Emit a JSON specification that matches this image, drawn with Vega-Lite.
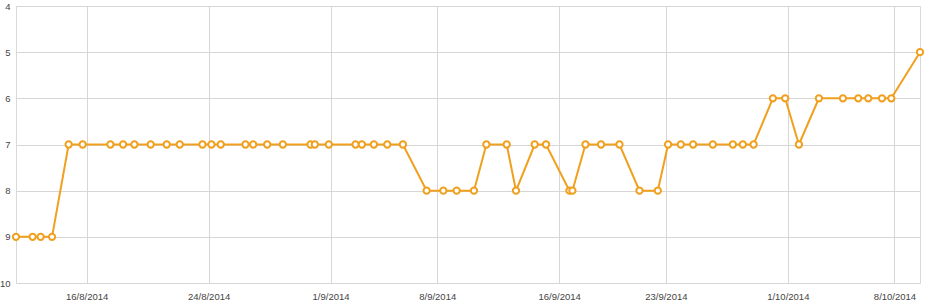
{
  "$schema": "https://vega.github.io/schema/vega-lite/v6.json",
  "autosize": "none",
  "width": 904,
  "height": 277,
  "padding": {"left": 16, "top": 6, "right": 6, "bottom": 22},
  "background": "white",
  "config": {
    "view": {"stroke": "#d9d9d9", "strokeWidth": 1},
    "axis": {"labelFont": "Liberation Sans", "labelFontSize": 9.5, "labelColor": "#444444", "gridColor": "#d6d6d6", "gridWidth": 1, "tickSize": 0, "domain": false, "title": null}
  },
  "data": {
    "values": [
      {"date": "2014-08-11T08:44:00", "rank": 9},
      {"date": "2014-08-12T10:54:00", "rank": 9},
      {"date": "2014-08-12T23:30:00", "rank": 9},
      {"date": "2014-08-13T17:28:00", "rank": 9},
      {"date": "2014-08-14T19:38:00", "rank": 7},
      {"date": "2014-08-15T17:41:00", "rank": 7},
      {"date": "2014-08-17T13:21:00", "rank": 7},
      {"date": "2014-08-18T09:21:00", "rank": 7},
      {"date": "2014-08-19T03:10:00", "rank": 7},
      {"date": "2014-08-20T04:51:00", "rank": 7},
      {"date": "2014-08-21T06:04:00", "rank": 7},
      {"date": "2014-08-22T02:33:00", "rank": 7},
      {"date": "2014-08-23T14:20:00", "rank": 7},
      {"date": "2014-08-24T04:30:00", "rank": 7},
      {"date": "2014-08-24T19:09:00", "rank": 7},
      {"date": "2014-08-26T10:05:00", "rank": 7},
      {"date": "2014-08-26T22:13:00", "rank": 7},
      {"date": "2014-08-27T20:17:00", "rank": 7},
      {"date": "2014-08-28T20:53:00", "rank": 7},
      {"date": "2014-08-30T16:31:00", "rank": 7},
      {"date": "2014-08-30T23:17:00", "rank": 7},
      {"date": "2014-08-31T21:22:00", "rank": 7},
      {"date": "2014-09-02T15:26:00", "rank": 7},
      {"date": "2014-09-03T01:21:00", "rank": 7},
      {"date": "2014-09-03T20:15:00", "rank": 7},
      {"date": "2014-09-04T17:22:00", "rank": 7},
      {"date": "2014-09-05T17:58:00", "rank": 7},
      {"date": "2014-09-07T07:19:00", "rank": 8},
      {"date": "2014-09-08T09:37:00", "rank": 8},
      {"date": "2014-09-09T06:36:00", "rank": 8},
      {"date": "2014-09-10T09:52:00", "rank": 8},
      {"date": "2014-09-11T05:24:00", "rank": 7},
      {"date": "2014-09-12T13:23:00", "rank": 7},
      {"date": "2014-09-13T04:02:00", "rank": 8},
      {"date": "2014-09-14T09:30:00", "rank": 7},
      {"date": "2014-09-15T03:19:00", "rank": 7},
      {"date": "2014-09-16T16:10:00", "rank": 8},
      {"date": "2014-09-16T20:54:00", "rank": 8},
      {"date": "2014-09-17T17:24:00", "rank": 7},
      {"date": "2014-09-18T17:58:00", "rank": 7},
      {"date": "2014-09-19T22:58:00", "rank": 7},
      {"date": "2014-09-21T06:29:00", "rank": 8},
      {"date": "2014-09-22T11:20:00", "rank": 8},
      {"date": "2014-09-23T03:33:00", "rank": 7},
      {"date": "2014-09-23T23:34:00", "rank": 7},
      {"date": "2014-09-24T18:58:00", "rank": 7},
      {"date": "2014-09-26T02:01:00", "rank": 7},
      {"date": "2014-09-27T09:32:00", "rank": 7},
      {"date": "2014-09-28T01:16:00", "rank": 7},
      {"date": "2014-09-28T18:09:00", "rank": 7},
      {"date": "2014-09-30T00:33:00", "rank": 6},
      {"date": "2014-09-30T19:56:00", "rank": 6},
      {"date": "2014-10-01T17:31:00", "rank": 7},
      {"date": "2014-10-03T01:02:00", "rank": 6},
      {"date": "2014-10-04T14:51:00", "rank": 6},
      {"date": "2014-10-05T14:58:00", "rank": 6},
      {"date": "2014-10-06T06:45:00", "rank": 6},
      {"date": "2014-10-07T04:19:00", "rank": 6},
      {"date": "2014-10-07T18:59:00", "rank": 6},
      {"date": "2014-10-09T16:12:00", "rank": 5}
    ]
  },
  "encoding": {
    "x": {
      "field": "date",
      "type": "temporal",
      "scale": {"nice": false},
      "axis": {
        "values": [
          {"year": 2014, "month": 8, "date": 16},
          {"year": 2014, "month": 8, "date": 24},
          {"year": 2014, "month": 9, "date": 1},
          {"year": 2014, "month": 9, "date": 8},
          {"year": 2014, "month": 9, "date": 16},
          {"year": 2014, "month": 9, "date": 23},
          {"year": 2014, "month": 10, "date": 1},
          {"year": 2014, "month": 10, "date": 8}
        ],
        "format": "%-d/%-m/%Y",
        "labelPadding": 8,
        "labelFlush": false,
        "labelOverlap": false
      }
    },
    "y": {
      "field": "rank",
      "type": "quantitative",
      "scale": {"domain": [4, 10], "reverse": true, "nice": false, "zero": false},
      "axis": {"values": [4, 5, 6, 7, 8, 9, 10], "labelPadding": 6, "labelFlush": false}
    }
  },
  "layer": [
    {"mark": {"type": "line", "color": "#f0a01e", "strokeWidth": 2}},
    {"mark": {"type": "point", "shape": "circle", "filled": true, "fill": "white", "stroke": "#f0a01e", "strokeWidth": 2, "size": 40, "opacity": 1}}
  ]
}
